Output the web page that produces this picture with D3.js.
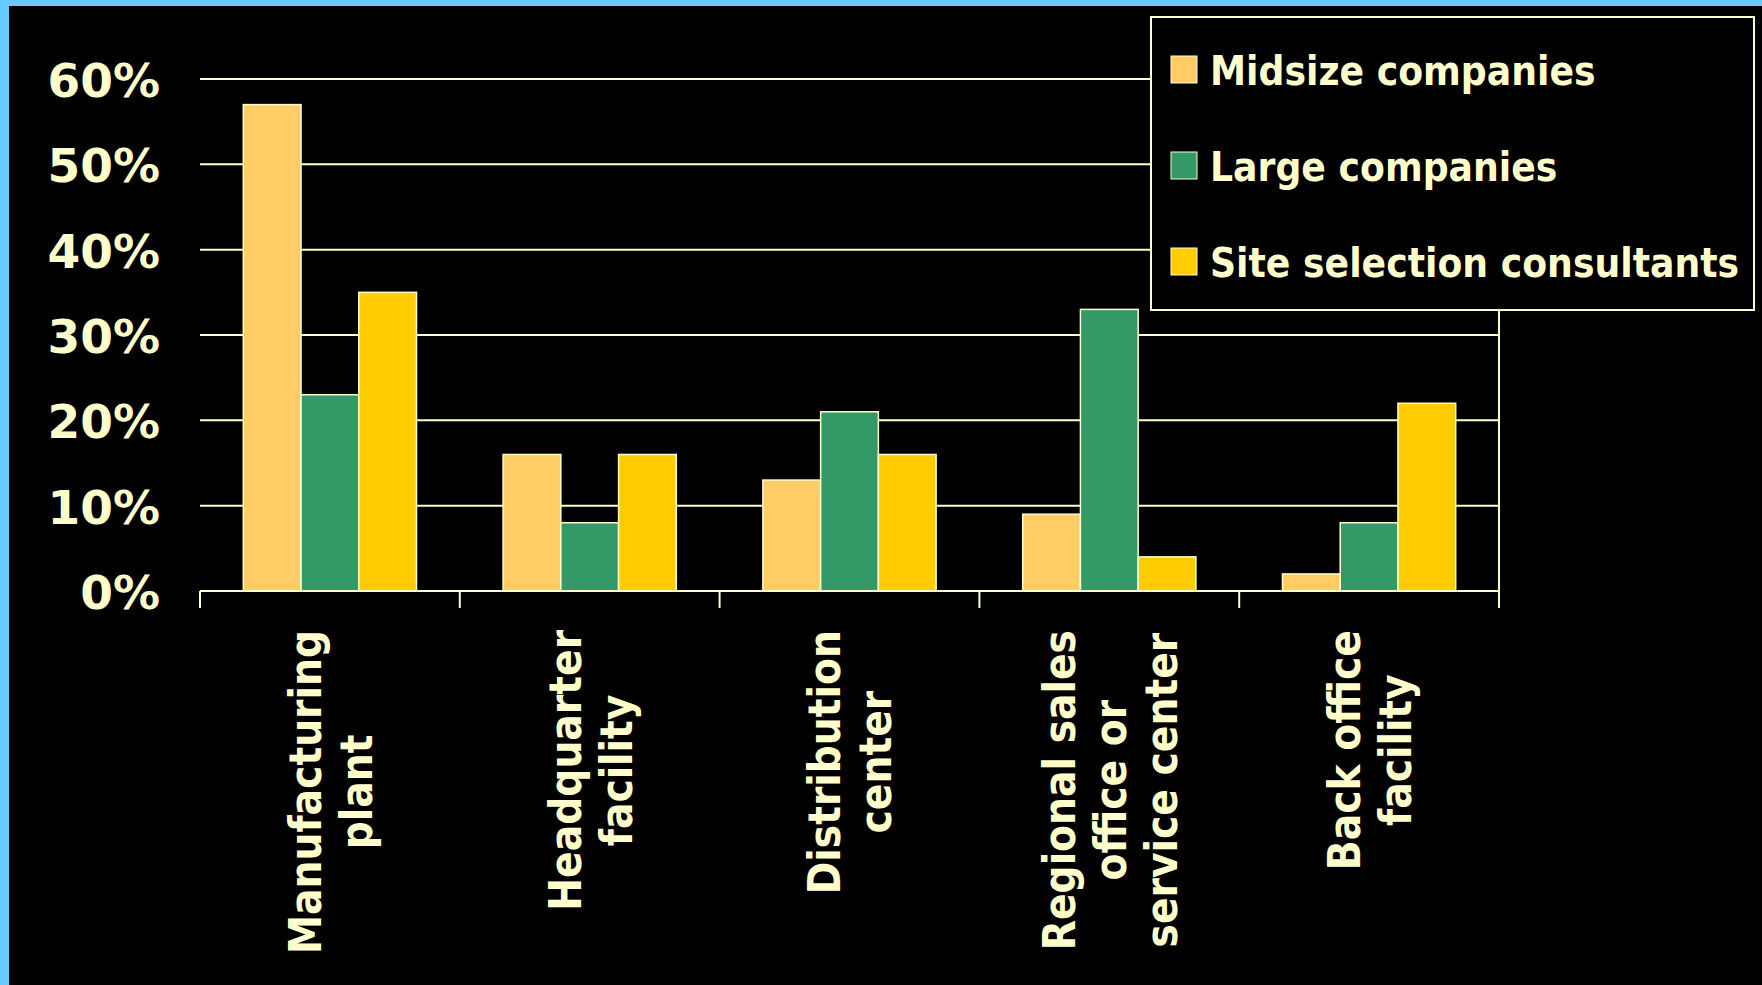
<!DOCTYPE html>
<html lang="en">
<head>
  <meta charset="UTF-8" />
  <title>Facility types</title>
  <script src="https://d3js.org/d3.v7.min.js"></script>
  <style>
    html, body { margin: 0; padding: 0; background: #000; }
    svg { display: block; }
    text { fill: #FFFFCC; font-family: "DejaVu Sans", Verdana, sans-serif; font-weight: bold; }
  </style>
</head>
<body>
  <svg id="chart" width="1762" height="985"></svg>

  <script>
    const categories = ["Manufacturing plant", "Headquarter facility", "Distribution center",
      "Regional sales office or service center", "Back office facility"];
    const categoryLines = [
      ["Manufacturing", "plant"],
      ["Headquarter", "facility"],
      ["Distribution", "center"],
      ["Regional sales", "office or", "service center"],
      ["Back office", "facility"]
    ];
    const series = ["Midsize companies", "Large companies", "Site selection consultants"];
    const midsize = [57, 16, 13, 9, 2];
    const large = [23, 8, 21, 33, 8];
    const consultants = [35, 16, 16, 4, 22];
    const yTicks = [0, 10, 20, 30, 40, 50, 60];

    const values = [midsize, large, consultants];
    const colors = ["#FFCC66", "#339966", "#FFCC00"];
    const ink = "#FFFFCC";

    const svg = d3.select("#chart");
    const width = +svg.attr("width");
    const height = +svg.attr("height");

    // black slide with blue edge top and left
    svg.append("rect").attr("width", width).attr("height", height).attr("fill", "#000");
    svg.append("rect").attr("width", width).attr("height", 6).attr("fill", "#66CCFF");
    svg.append("rect").attr("width", 9).attr("height", height).attr("fill", "#66CCFF");

    const x0 = d3.scaleBand().domain(categories).range([200, 1499]);
    const x1 = d3.scaleBand().domain(series).range([0, x0.bandwidth()]).paddingOuter(0.75);
    const y = d3.scaleLinear().domain([0, 60]).range([591, 79]);

    const color = d3.scaleOrdinal().domain(series).range(colors);

    // gridlines
    svg.append("g")
      .selectAll("line")
      .data(yTicks.filter(d => d > 0))
      .join("line")
      .attr("x1", 200).attr("x2", 1499)
      .attr("y1", d => y(d)).attr("y2", d => y(d))
      .attr("stroke", ink).attr("stroke-width", 2);

    // right border of plot
    svg.append("line")
      .attr("x1", 1499).attr("x2", 1499)
      .attr("y1", y(60)).attr("y2", y(0))
      .attr("stroke", ink).attr("stroke-width", 2);

    // y labels
    svg.append("g")
      .selectAll("text")
      .data(yTicks)
      .join("text")
      .attr("x", 160)
      .attr("y", d => y(d))
      .attr("dy", "0.38em")
      .attr("text-anchor", "end")
      .attr("font-size", 47)
      .text(d => d + "%");

    // bars
    const group = svg.append("g")
      .selectAll("g")
      .data(categories)
      .join("g")
      .attr("transform", d => `translate(${x0(d)},0)`);

    group.selectAll("rect")
      .data((d, i) => series.map((s, j) => ({ s, v: values[j][i] })))
      .join("rect")
      .attr("x", d => x1(d.s))
      .attr("width", x1.bandwidth())
      .attr("y", d => y(d.v))
      .attr("height", d => y(0) - y(d.v))
      .attr("fill", d => color(d.s))
      .attr("stroke", ink)
      .attr("stroke-width", 1.5);

    // x axis line with ticks at band edges
    const axisG = svg.append("g")
      .attr("transform", `translate(0,${y(0)})`);
    axisG.append("line")
      .attr("x1", 200).attr("x2", 1499)
      .attr("stroke", ink).attr("stroke-width", 2);
    axisG.selectAll(".edge")
      .data(categories.map(c => x0(c)).concat([x0.range()[1]]))
      .join("line")
      .attr("class", "edge")
      .attr("x1", d => d).attr("x2", d => d)
      .attr("y1", 0).attr("y2", 17)
      .attr("stroke", ink).attr("stroke-width", 2);

    // rotated category labels
    const labelSize = 45, labelScale = 0.873, lineGap = 51, cap = 0.729 * labelSize;
    categories.forEach((c, i) => {
      const lines = categoryLines[i];
      const cx = x0(c) + x0.bandwidth() / 2;
      const g = svg.append("g").attr("transform", `translate(${cx},630) rotate(-90)`);
      const t = g.append("text")
        .attr("font-size", labelSize)
        .attr("text-anchor", "middle")
        .attr("transform", `scale(${labelScale},1)`);
      const first = -((lines.length - 1) * lineGap - cap) / 2;
      const spans = t.selectAll("tspan")
        .data(lines)
        .join("tspan")
        .attr("y", (d, k) => first + k * lineGap)
        .text(d => d);
      let maxLen = 0;
      spans.each(function () { maxLen = Math.max(maxLen, this.getComputedTextLength()); });
      spans.attr("x", -maxLen / 2);
    });

    // legend
    const legend = svg.append("g");
    legend.append("rect")
      .attr("x", 1151).attr("y", 17)
      .attr("width", 603).attr("height", 293)
      .attr("fill", "#000")
      .attr("stroke", ink).attr("stroke-width", 2);

    const item = legend.selectAll(".item")
      .data(series)
      .join("g")
      .attr("class", "item")
      .attr("transform", (d, i) => `translate(0,${85 + i * 96})`);

    item.append("rect")
      .attr("x", 1171).attr("y", -29)
      .attr("width", 26).attr("height", 27)
      .attr("fill", d => color(d))
      .attr("stroke", ink).attr("stroke-width", 1);

    item.append("text")
      .attr("transform", "translate(1210,0) scale(0.884,1)")
      .attr("font-size", 41)
      .text(d => d);
  </script>
</body>
</html>
